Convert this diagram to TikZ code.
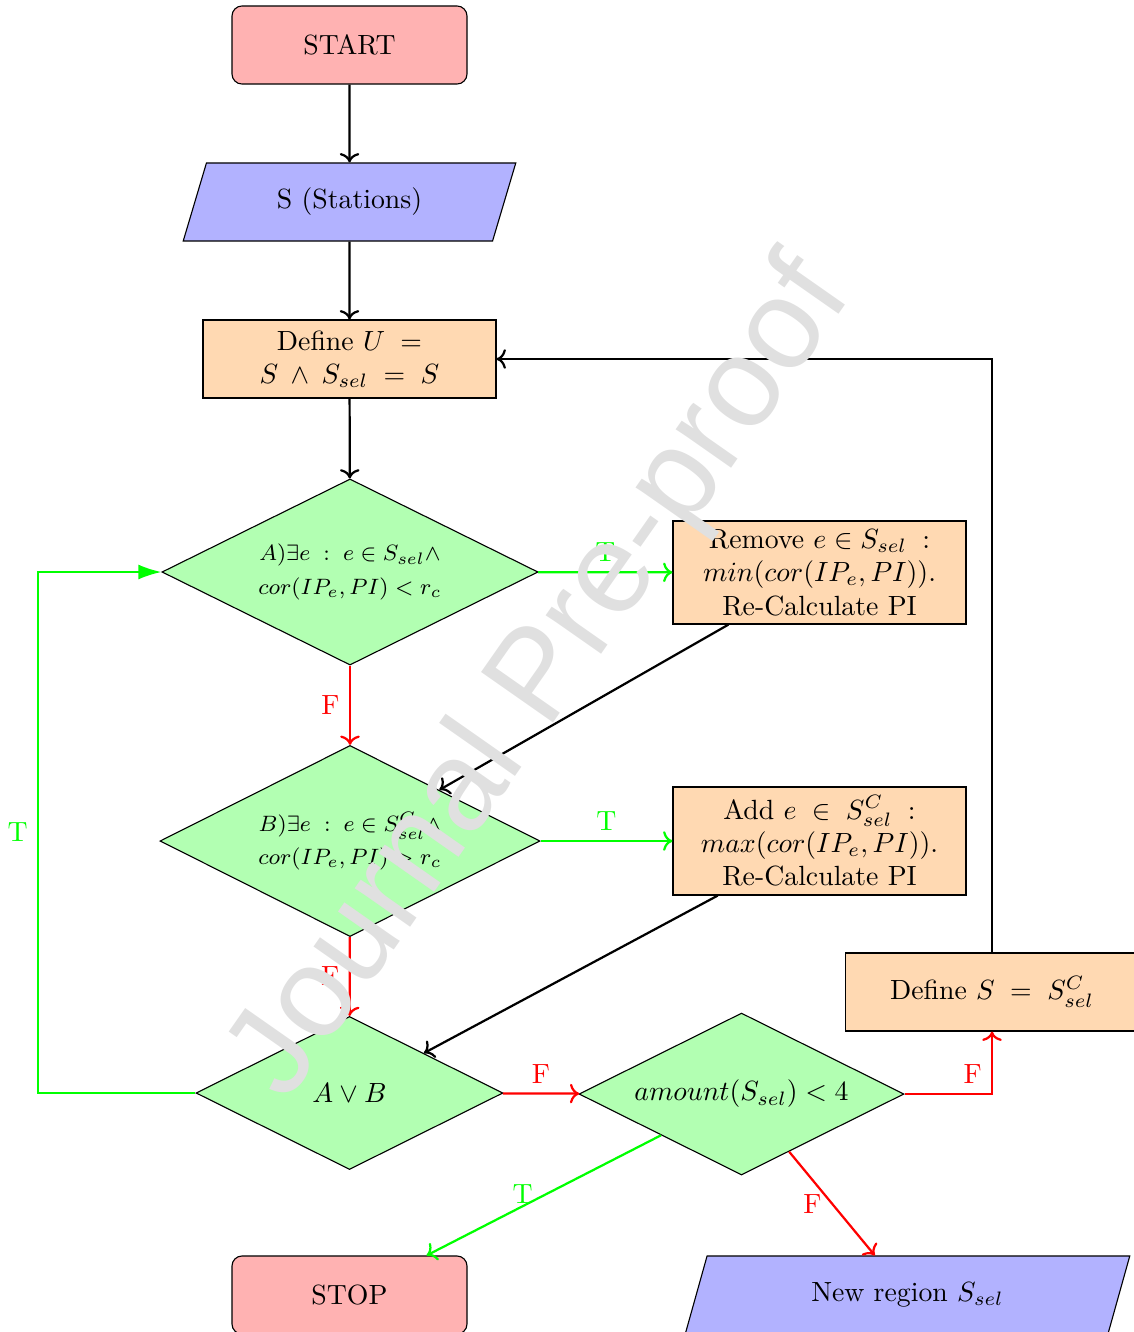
\documentclass[tikz,border=0pt]{standalone}
\usepackage{fontspec}
\newfontfamily\wmfont{Liberation Sans}
\usetikzlibrary{shapes.geometric,arrows.meta}
\begin{document}
\begin{tikzpicture}[x=0.36pt,y=-0.36pt,
  base/.style={draw=black, thin, inner sep=0pt, align=center, font=\fontsize{10}{12}\selectfont},
  term/.style={base, rectangle, rounded corners=3.6pt, fill=red!30, minimum width=84.6pt, minimum height=28.1pt},
  io/.style={base, trapezium, trapezium left angle=67, trapezium right angle=113, trapezium stretches=true, fill=blue!30, minimum height=28.1pt},
  proc/.style={base, rectangle, fill=orange!30, minimum width=105.5pt},
  dec/.style={base, diamond, shape aspect=2, fill=green!30},
  smalltext/.style={font=\fontsize{8}{12}\selectfont},
  arr/.style={->, thick},
  lbl/.style={font=\fontsize{10}{12}\selectfont}
]
\useasboundingbox (0,0) rectangle (1133,1332);

\node[term] (start) at (349.5,45) {START};
\node[io, minimum width=120.2pt] (stations) at (349.5,202) {S (Stations)};
\node[proc, minimum height=28.1pt] (defU) at (349.5,359) {Define $U\;=$\\ $S\:\wedge\:S_{sel}\;=\;S$};
\node[dec, smalltext, minimum width=135.4pt, minimum height=67pt] (A) at (350,572) {$A)\exists e\;:\;e\in S_{sel}\wedge$\\ $cor(IP_e,PI)<r_c$};
\node[proc, minimum height=37.1pt] (rem) at (819.5,572.5) {Remove $e\in S_{sel}\;:$\\ $min(cor(IP_e,PI))$.\\ Re-Calculate PI};
\node[dec, smalltext, minimum width=136.8pt, minimum height=68.8pt] (B) at (350,841) {$B)\exists e\;:\;e\in S^C_{sel}\wedge$\\ $cor(IP_e,PI)>r_c$};
\node[proc, minimum height=38.9pt] (add) at (819.5,841) {Add $e\;\in\;S^C_{sel}\;:$\\ $max(cor(IP_e,PI))$.\\ Re-Calculate PI};
\node[dec, minimum width=110.5pt, minimum height=55.1pt] (AB) at (349.5,1093) {$A\vee B$};
\node[dec, minimum width=117pt, minimum height=58.3pt] (amt) at (741.5,1094) {$amount(S_{sel})<4$};
\node[proc, minimum height=28.1pt] (defS) at (992,992) {Define $S\;=\;S^C_{sel}$};
\node[term] (stop) at (349.5,1295) {STOP};
\node[io, minimum width=160.2pt] (newr) at (907.5,1295) {New region $S_{sel}$};
\coordinate (loopL) at (38,1093);

\draw[arr] (start) -- (stations);
\draw[arr] (stations) -- (defU);
\draw[arr] (defU) -- (A);
\draw[arr, green] (A) -- node[lbl, above] {T} (rem);
\draw[arr, red] (A) -- node[lbl, left] {F} (B);
\draw[arr] (rem) -- (B);
\draw[arr, green] (B) -- node[lbl, above] {T} (add);
\draw[arr, red] (B) -- node[lbl, left] {F} (AB);
\draw[arr] (add) -- (AB);
\draw[green, line width=0.72pt, -{Latex[length=8.3pt,width=5.4pt]}] (AB.west) -- (loopL) |- node[lbl, pos=0.25, left] {T} (A.west);
\draw[arr, red] (AB) -- node[lbl, above] {F} (amt);
\draw[arr, red] (amt) -| node[lbl, pos=0.5, above left] {F} (defS);
\draw[arr] (defS) |- (defU);
\draw[arr, green] (amt) -- node[lbl, pos=0.59, above, inner sep=0.5pt] {T} (stop);
\draw[arr, red] (amt) -- node[lbl, left] {F} (newr);

\node[rotate=55, text=black!12, font=\wmfont\fontsize{46}{54}\selectfont] (wm) at (543,680) {Journal Pre-proof};
\end{tikzpicture}
\end{document}
